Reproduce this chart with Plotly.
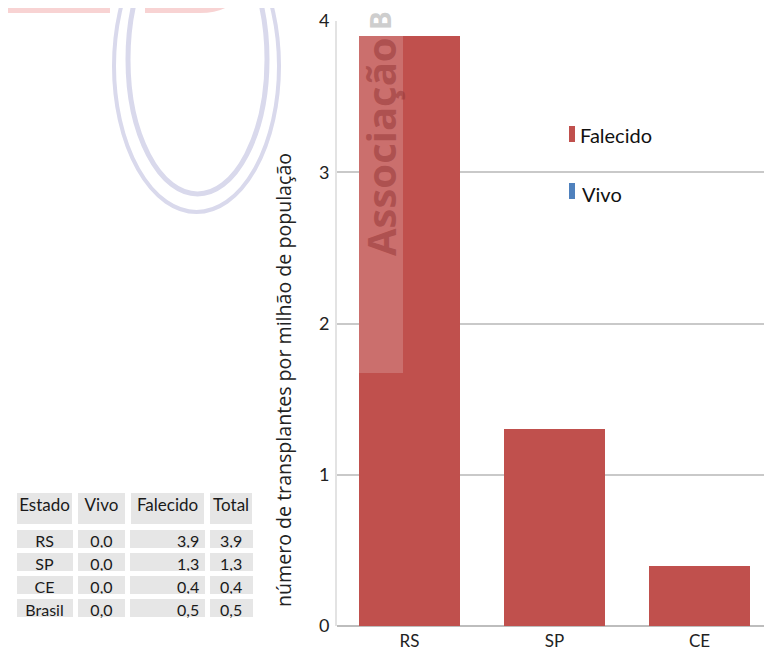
import plotly.graph_objects as go

# ---- data ----
estados_chart = ["RS", "SP", "CE"]
falecido_chart = [3.9, 1.3, 0.4]
vivo_chart = [0.0, 0.0, 0.0]

tabela_estado = ["RS", "SP", "CE", "Brasil"]
tabela_vivo = ["0,0", "0,0", "0,0", "0,0"]
tabela_falecido = ["3,9", "1,3", "0,4", "0,5"]
tabela_total = ["3,9", "1,3", "0,4", "0,5"]
tabela_header = ["Estado", "Vivo", "Falecido", "Total"]

y_ticks = [0, 1, 2, 3, 4]

# page body has an 8px margin: the figure starts at (8, 8) of the window
OFF = 8
W, H = 772 - OFF, 653 - OFF
FONT = "Lato"
RED = "#c0504d"
BLUE = "#4f81bd"


def px(x):
    return (x - OFF) / W


def py(y):
    return 1 - (y - OFF) / H


fig = go.Figure()

fig.add_trace(go.Bar(x=estados_chart, y=vivo_chart, name="Vivo",
                     marker=dict(color=BLUE, line=dict(width=0)),
                     showlegend=False, hoverinfo="skip"))
fig.add_trace(go.Bar(x=estados_chart, y=falecido_chart, name="Falecido",
                     marker=dict(color=RED, line=dict(width=0)),
                     showlegend=False))

fig.add_trace(go.Table(
    domain=dict(x=[px(14), px(255)], y=[py(645), py(490)]),
    columnwidth=[60, 52, 78, 47],
    header=dict(values=tabela_header, height=37, align="center",
                fill_color="#e6e6e6", line=dict(color="white", width=6),
                font=dict(family=FONT, size=17, color="#1a1a1a")),
    cells=dict(values=[tabela_estado, tabela_vivo, tabela_falecido, tabela_total],
               height=23, align=["center", "center", "right", "center"],
               fill_color="#e6e6e6", line=dict(color="white", width=5),
               font=dict(family=FONT, size=16, color="#1a1a1a")),
))

shapes = []
# watermark (background logo)
shapes.append(dict(type="path", xref="paper", yref="paper",
                   path=f"M {px(5)},{py(9)} L {px(110)},{py(9)}",
                   line=dict(color="#f8d3d3", width=8), layer="below"))
shapes.append(dict(type="path", xref="paper", yref="paper",
                   path=f"M {px(145)},{py(9)} L {px(200)},{py(9)} Q {px(222)},{py(9)} {px(232)},{py(-2)}",
                   line=dict(color="#f8d3d3", width=8), layer="below"))
shapes.append(dict(type="circle", xref="paper", yref="paper",
                   x0=px(114), x1=px(279), y0=py(-80), y1=py(212),
                   line=dict(color="#d9d9ec", width=4), layer="below"))
shapes.append(dict(type="circle", xref="paper", yref="paper",
                   x0=px(128), x1=px(267), y0=py(-75), y1=py(194),
                   line=dict(color="#d9d9ec", width=5), layer="below"))
# lighter overlay on first bar
shapes.append(dict(type="rect", xref="paper", yref="paper",
                   x0=px(359), x1=px(403), y0=py(373), y1=py(36),
                   fillcolor="rgba(255,255,255,0.18)", line=dict(width=0), layer="above"))
# custom legend markers
shapes.append(dict(type="rect", xref="paper", yref="paper",
                   x0=px(569), x1=px(575), y0=py(142), y1=py(126),
                   fillcolor=RED, line=dict(width=0)))
shapes.append(dict(type="rect", xref="paper", yref="paper",
                   x0=px(569), x1=px(575), y0=py(199), y1=py(183),
                   fillcolor=BLUE, line=dict(width=0)))

annotations = [
    dict(text="número de transplantes por milhão de população", xref="paper", yref="paper",
         x=px(283), y=py(380), textangle=-90, showarrow=False,
         xanchor="center", yanchor="middle",
         font=dict(family="Open Sans", size=19.6, color="#222")),
    dict(text="Falecido", xref="paper", yref="paper", x=px(578), y=py(135),
         xanchor="left", yanchor="middle", showarrow=False,
         font=dict(family=FONT, size=20, color="#111")),
    dict(text="Vivo", xref="paper", yref="paper", x=px(580), y=py(194),
         xanchor="left", yanchor="middle", showarrow=False,
         font=dict(family=FONT, size=20, color="#111")),
    dict(text="Associação", xref="paper", yref="paper", x=px(380), y=py(147),
         textangle=-90, showarrow=False, xanchor="center", yanchor="middle",
         font=dict(family="Open Sans", size=40, weight="bold", color="rgba(150,55,55,0.55)")),
    dict(text="B", xref="paper", yref="paper", x=px(380), y=py(21),
         textangle=-90, showarrow=False, xanchor="center", yanchor="middle",
         font=dict(family="Open Sans", size=28, weight="bold", color="rgba(200,200,200,0.9)")),
]

fig.update_layout(
    width=W, height=H,
    margin=dict(l=0, r=0, t=0, b=0),
    paper_bgcolor="white", plot_bgcolor="white",
    barmode="stack", bargap=0.3,
    showlegend=False,
    font=dict(family=FONT, size=15, color="#222"),
    xaxis=dict(domain=[px(337), 1], automargin=False,
               showgrid=False, showline=False, ticks="", ticklabelstandoff=3,
               tickfont=dict(family=FONT, size=17, color="#222")),
    yaxis=dict(domain=[py(626), py(21)], range=[0, 4], automargin=False,
               tickvals=y_ticks, showgrid=True, gridcolor="#c9c9c9", gridwidth=2,
               zeroline=True, zerolinecolor="#bdbdbd", zerolinewidth=2,
               showline=True, linecolor="#e3e3e3", linewidth=2,
               ticks="", ticklabelstandoff=2,
               tickfont=dict(family=FONT, size=18, color="#222")),
    shapes=shapes,
    annotations=annotations,
)

fig.write_html("out.html")
